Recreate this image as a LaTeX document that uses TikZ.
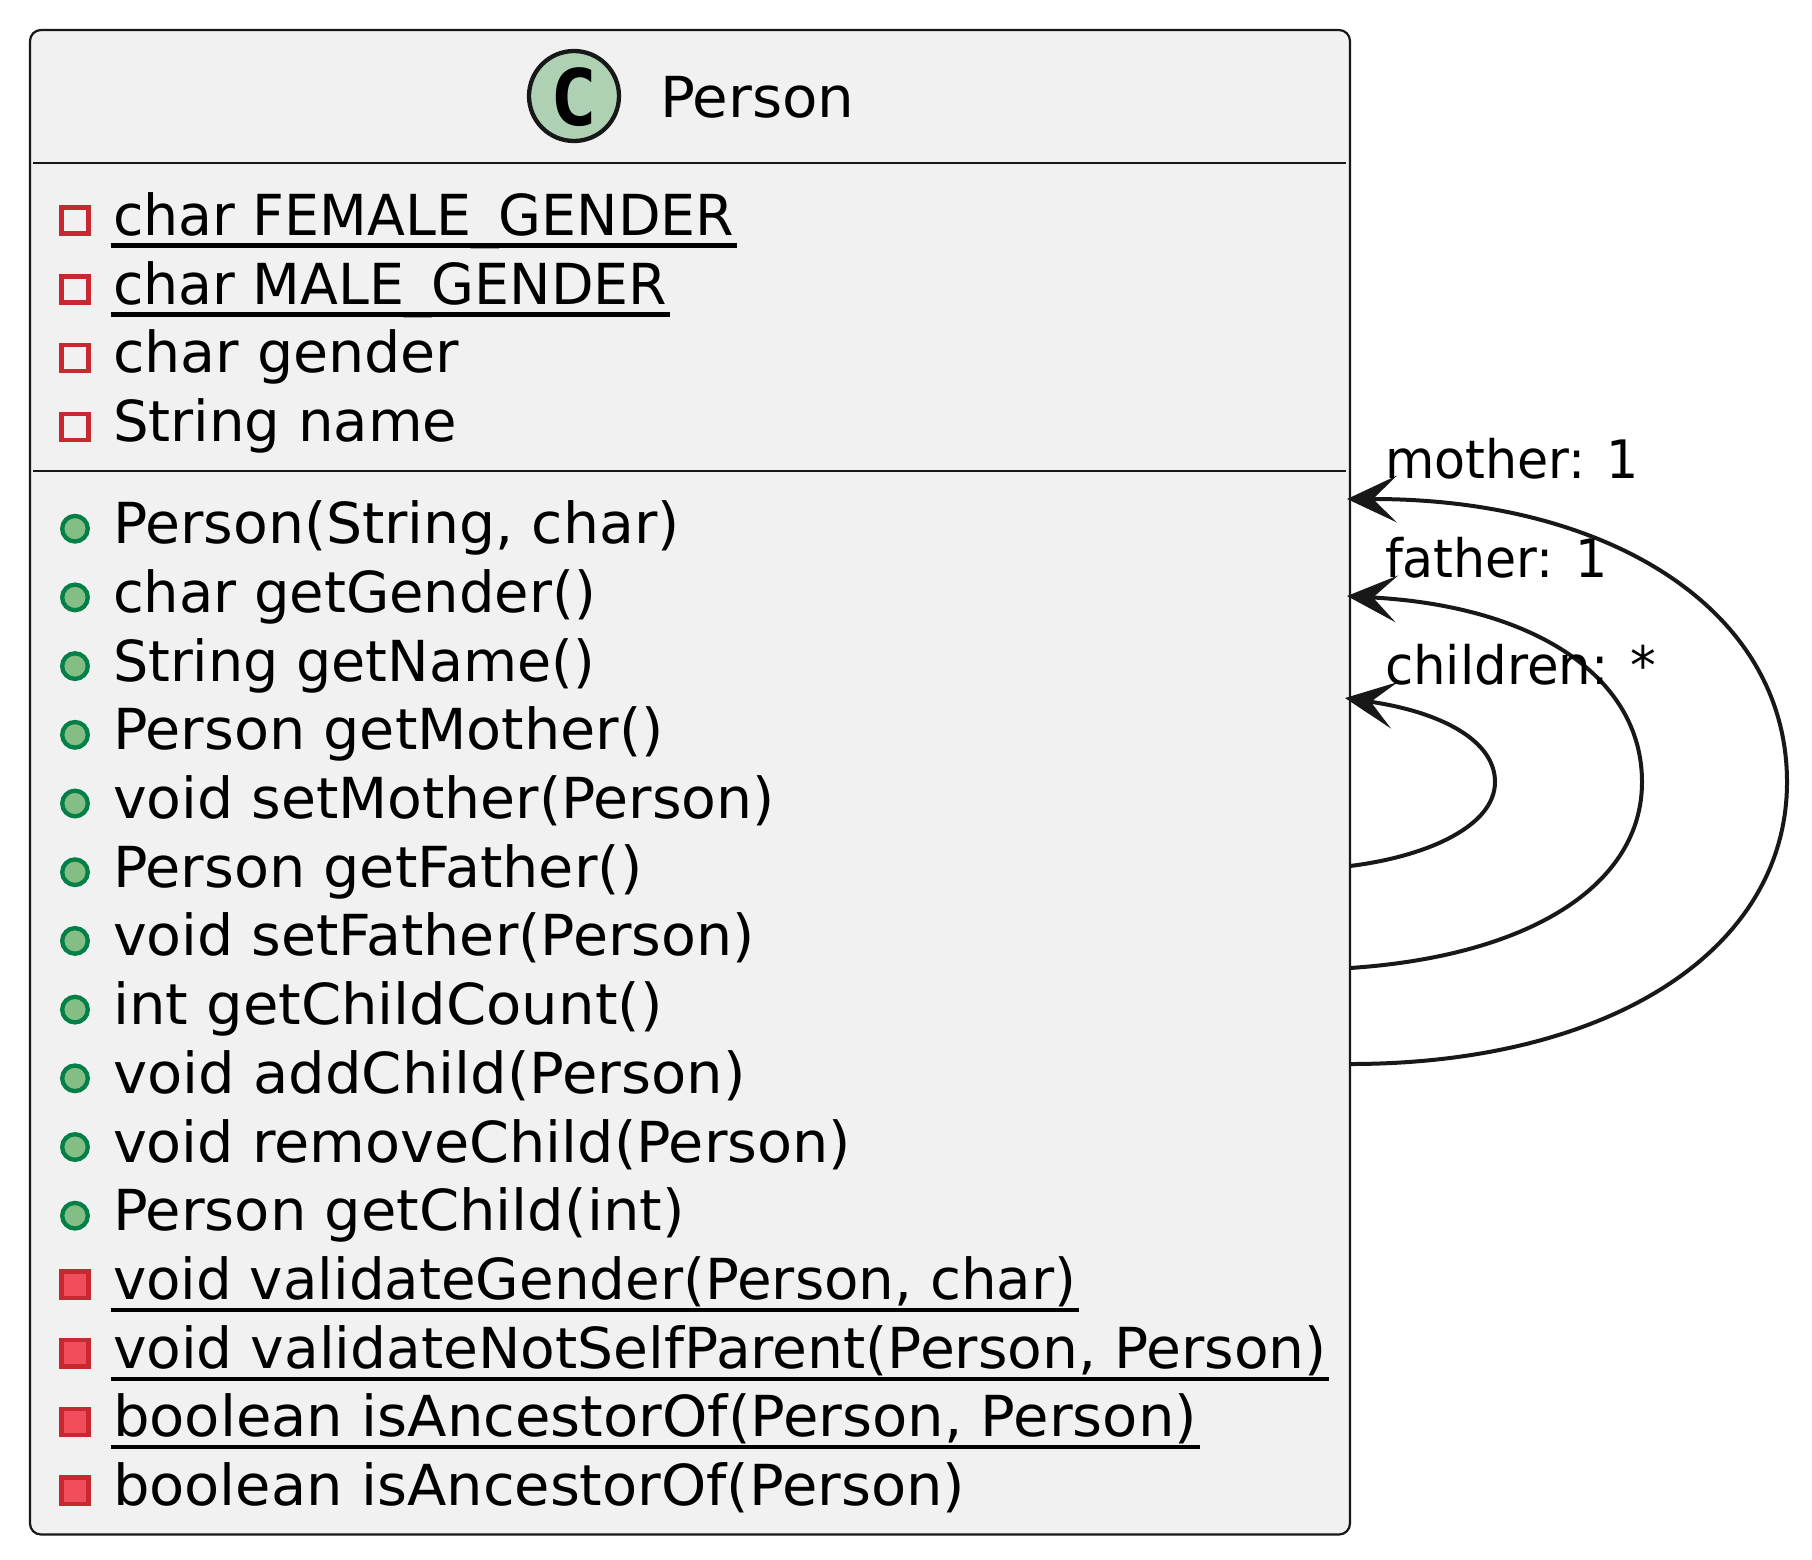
\documentclass[tikz,border=0pt]{standalone}
\usepackage{graphicx}
\usepackage{fontspec}
\setmainfont{DejaVu Sans}
\newfontfamily\iconfont{DejaVu Sans Mono}
\usetikzlibrary{arrows.meta}
\definecolor{boxfill}{HTML}{F1F1F1}
\definecolor{ink}{HTML}{181818}
\definecolor{privline}{HTML}{C82930}
\definecolor{privfill}{HTML}{F24D5C}
\definecolor{publine}{HTML}{038048}
\definecolor{pubfill}{HTML}{84BE84}
\definecolor{classfill}{HTML}{ADD1B2}
\tikzset{
  txt/.style={anchor=base west,inner sep=0pt,outer sep=0pt,font=\fontsize{56.5}{60}\selectfont,text=black},
  lbl/.style={anchor=base west,inner sep=0pt,outer sep=0pt,font=\fontsize{53}{57}\selectfont,text=black},
  attrib/.style={draw=privline,line width=4.3pt,fill=none},
  priv/.style={draw=privline,line width=4.3pt,fill=privfill},
  pub/.style={draw=publine,line width=4.3pt,fill=pubfill},
  ul/.style={line width=4.2pt,black},
  conn/.style={draw=ink,line width=4pt,-{Stealth[length=50pt,width=47pt,inset=24pt,line width=0pt,fill=ink]}},
  sep/.style={draw=ink,line width=2pt},
}
\newcommand{\attrow}[4]{\draw[attrib] (61.5,#1-27.5) rectangle (88.5,#1-1.5); \node[txt] (#2) at (113,#1) {\scalebox{#4}[1]{#3}};}
\newcommand{\pubrow}[4]{\draw[pub] (75,#1-15) circle (12.8pt); \node[txt] (#2) at (113,#1) {\scalebox{#4}[1]{#3}};}
\newcommand{\privrow}[4]{\draw[priv] (61.5,#1-28) rectangle (88.5,#1-1.5); \node[txt] (#2) at (113,#1) {\scalebox{#4}[1]{#3}};}
\newcommand{\underl}[1]{\draw[ul] ([xshift=-2.5pt,yshift=-10.5pt]#1.base west) -- ([xshift=2.5pt,yshift=-10.5pt]#1.base east);}
\begin{document}
\begin{tikzpicture}[x=1pt,y=-1pt]
\useasboundingbox (0,0) rectangle (1812,1559);
\fill[white] (0,0) rectangle (1812,1559);
\draw[draw=ink,line width=2.2pt,fill=boxfill,rounded corners=11pt] (30,30) rectangle (1350,1534.5);
\node[circle,draw=ink,line width=4.3pt,fill=classfill,minimum size=90pt,inner sep=0pt] (badge) at (574,96) {};
\node[inner sep=0pt,font=\iconfont\bfseries\fontsize{78}{78}\selectfont,text=black] (cletter) at (574,97) {C};
\node[txt] (title) at (660,117) {\scalebox{1.025}[1]{Person}};
\draw[sep] (33,162.5) -- (1346,162.5);
\draw[sep] (33,470.5) -- (1346,470.5);
\attrow{235}{a1}{char FEMALE\_GENDER}{.98}
\attrow{304}{a2}{char MALE\_GENDER}{.98}
\attrow{372.7}{a3}{char gender}{1.01}
\attrow{441.5}{a4}{String name}{.993}
\underl{a1}\underl{a2}
\pubrow{543.7}{m1}{Person(String, char)}{1.006}
\pubrow{612.4}{m2}{char getGender()}{.99}
\pubrow{681.1}{m3}{String getName()}{.983}
\pubrow{749.8}{m4}{Person getMother()}{1.013}
\pubrow{818.5}{m5}{void setMother(Person)}{1.007}
\pubrow{887.2}{m6}{Person getFather()}{1.013}
\pubrow{955.9}{m7}{void setFather(Person)}{1.009}
\pubrow{1024.6}{m8}{int getChildCount()}{1.02}
\pubrow{1093.3}{m9}{void addChild(Person)}{1.02}
\pubrow{1162}{m10}{void removeChild(Person)}{1.013}
\pubrow{1230.7}{m11}{Person getChild(int)}{1.019}
\privrow{1299.4}{m12}{void validateGender(Person, char)}{.996}
\privrow{1368.1}{m13}{void validateNotSelfParent(Person, Person)}{1.003}
\privrow{1436.8}{m14}{boolean isAncestorOf(Person, Person)}{1.02}
\privrow{1505.5}{m15}{boolean isAncestorOf(Person)}{1.018}
\underl{m12}\underl{m13}\underl{m14}
\coordinate (ms) at (1350,1064);
\coordinate (me) at (1347,499);
\coordinate (fs) at (1350,968);
\coordinate (fe) at (1347,596);
\coordinate (cs) at (1350,866);
\coordinate (ce) at (1345,698);
\path[conn] (ms) .. controls (1610,1064) and (1787,950) .. (1787,782) .. controls (1787,610) and (1610,499) .. (me);
\path[conn] (fs) .. controls (1530,956) and (1642,885) .. (1642,782) .. controls (1642,680) and (1540,607) .. (fe);
\path[conn] (cs) .. controls (1430,856) and (1495,825) .. (1495,782) .. controls (1495,740) and (1440,712) .. (ce);
\node[lbl] (lm) at (1385,478) {\scalebox{.956}[1]{mother: 1}};
\node[lbl] (lf) at (1385,577) {\scalebox{.955}[1]{father: 1}};
\node[lbl] (lc) at (1385,684) {\scalebox{.97}[1]{children: *}};
\end{tikzpicture}
\end{document}
